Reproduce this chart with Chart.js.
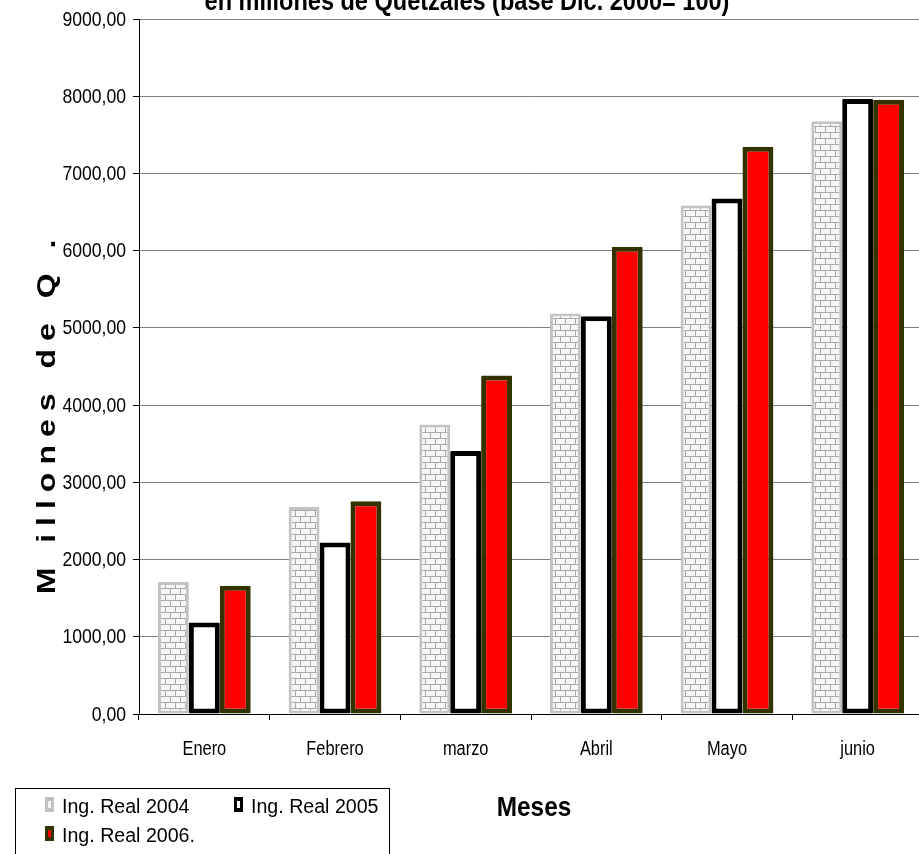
<!DOCTYPE html>
<html>
<head>
<meta charset="utf-8">
<script src="https://cdn.jsdelivr.net/npm/chart.js@4.4.1/dist/chart.umd.min.js"></script>
<style>
  html, body { margin: 0; padding: 0; background: #fff; overflow: hidden; }
  #wrap { width: 919px; height: 854px; overflow: hidden; }
  canvas { display: block; }
</style>
</head>
<body>
<div id="wrap"><canvas id="chart" width="926" height="854"></canvas></div>
<script>
/* datos */
var meses    = ['Enero', 'Febrero', 'marzo', 'Abril', 'Mayo', 'junio'];
var real2004 = [1710, 2680, 3750, 5185, 6585, 7675];
var real2005 = [1185, 2220, 3405, 5150, 6675, 7965];
var real2006 = [1660, 2755, 4385, 6050, 7345, 7955];
var series   = ['Ing. Real 2004', 'Ing. Real 2005', 'Ing. Real 2006.'];

var FONT = '"Liberation Sans", Arial, sans-serif';

/* patron de ladrillos para la serie 2004 */
function ladrillos() {
  var t = document.createElement('canvas');
  t.width = 10; t.height = 12;
  var g = t.getContext('2d');
  g.fillStyle = '#f6f6f6'; g.fillRect(0, 0, 10, 12);
  g.fillStyle = '#a9a9a9';
  g.fillRect(0, 0, 10, 1); g.fillRect(0, 6, 10, 1);
  g.fillRect(0, 0, 1, 6);  g.fillRect(5, 6, 1, 6);
  return g.createPattern(t, 'repeat');
}

function fmt(v) { return v.toFixed(2).replace('.', ','); }

// texto comprimido en horizontal (la fuente del original es estrecha)
function narrow(ctx, txt, x, y, sx, align) {
  ctx.save();
  ctx.translate(x, y);
  ctx.scale(sx, 1);
  ctx.textAlign = align;
  ctx.fillText(txt, 0, 0);
  ctx.restore();
}

/* ── textos, ticks y leyenda ──────────────────────── */
var decor = {
  id: 'decor',
  afterDraw: function(chart) {
    var ctx = chart.ctx;
    var sx = chart.scales.x, sy = chart.scales.y;
    ctx.save();
    ctx.fillStyle = '#000';

    // ticks eje y
    ctx.font = '20px ' + FONT;
    ctx.textBaseline = 'middle';
    sy.ticks.forEach(function(t) {
      narrow(ctx, fmt(t.value), 126, sy.getPixelForValue(t.value) + 1, 0.88, 'right');
    });
    // ticks eje x
    ctx.textBaseline = 'alphabetic';
    chart.data.labels.forEach(function(l, i) {
      narrow(ctx, l, sx.getPixelForTick(i), 755, 0.82, 'center');
    });

    // titulo (cortado arriba)
    ctx.font = 'bold 28px ' + FONT;
    narrow(ctx, 'en millones de Quetzales (base Dic. 2000= 100)', 467, 10, 0.84, 'center');

    // eje x
    narrow(ctx, 'Meses', 534, 816, 0.87, 'center');

    // eje y
    ctx.save();
    ctx.translate(55, 417);
    ctx.rotate(-Math.PI / 2);
    ctx.scale(1, 0.8);
    ctx.font = 'bold 32px ' + FONT;
    ctx.letterSpacing = '8px';
    ctx.textAlign = 'center';
    ctx.fillText('M illones de Q .', 4, 0);
    ctx.restore();

    // leyenda
    ctx.strokeStyle = '#000';
    ctx.lineWidth = 1;
    ctx.strokeRect(15.5, 788.5, 374, 80);
    var pos = [[45, 797], [234, 797], [45, 826]];
    var sw  = [
      { o: '#c0c0c0', i: '#f2f2f2' },
      { o: '#000000', i: '#ffffff' },
      { o: '#333300', i: '#ff0000' }
    ];
    ctx.font = '20px ' + FONT;
    series.forEach(function(s, i) {
      var p = pos[i];
      ctx.fillStyle = sw[i].o;
      ctx.fillRect(p[0], p[1], 9, 15);
      ctx.fillStyle = sw[i].i;
      ctx.fillRect(p[0] + 3, p[1] + 4, 3, 7);
      ctx.fillStyle = '#000';
      narrow(ctx, s, p[0] + 17, p[1] + 16, 0.98, 'left');
    });
    ctx.restore();
  }
};

new Chart(document.getElementById('chart'), {
  type: 'bar',
  data: {
    labels: meses,
    datasets: [
      { label: series[0], data: real2004, backgroundColor: ladrillos(), borderColor: '#c3c3c3', borderWidth: 3 },
      { label: series[1], data: real2005, backgroundColor: '#ffffff', borderColor: '#000000', borderWidth: 5 },
      { label: series[2], data: real2006, backgroundColor: '#ff0000', borderColor: '#333300', borderWidth: 5 }
    ]
  },
  options: {
    responsive: false,
    animation: false,
    layout: { padding: { top: 18, right: 3, left: 0, bottom: 0 } },
    datasets: { bar: { categoryPercentage: 0.71, barPercentage: 1, borderSkipped: false, borderRadius: 1 } },
    plugins: { legend: { display: false }, tooltip: { enabled: false } },
    scales: {
      x: {
        afterFit: function(s) { s.height = 140; },
        grid: { display: true, drawOnChartArea: false, offset: true, tickLength: 6, tickColor: '#000' },
        border: { color: '#000', width: 1 },
        ticks: { color: 'rgba(0,0,0,0)', font: { family: FONT, size: 20 }, padding: 12 }
      },
      y: {
        min: 0, max: 9000,
        afterFit: function(s) { s.width = 139; },
        grid: { color: '#7f7f7f', tickLength: 6, tickColor: '#000' },
        border: { color: '#000', width: 1 },
        ticks: { stepSize: 1000, color: 'rgba(0,0,0,0)', padding: 7, font: { family: FONT, size: 20 }, callback: function(v) { return fmt(v); } }
      }
    }
  },
  plugins: [decor]
});
</script>
</body>
</html>
